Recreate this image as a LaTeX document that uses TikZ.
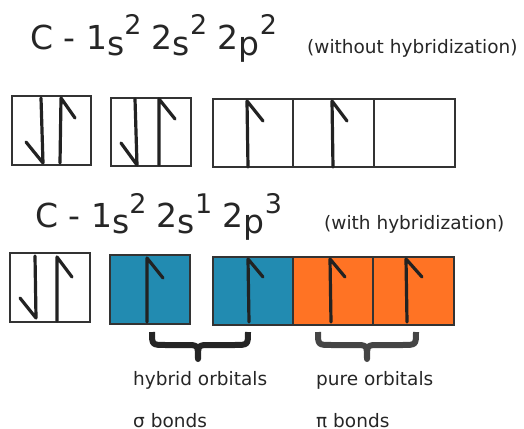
\documentclass[tikz,border=0pt]{standalone}
\usepackage{fontspec}
\setmainfont{DejaVu Sans}
\definecolor{hblue}{HTML}{228BB1}
\definecolor{porange}{HTML}{FF7324}
\definecolor{boxline}{HTML}{333333}
\definecolor{spinc}{HTML}{222222}
\definecolor{braceA}{HTML}{252525}
\definecolor{braceB}{HTML}{454545}
\newcommand{\bigf}{\fontsize{33}{33}\selectfont}
\newcommand{\supf}{\fontsize{27}{27}\selectfont}
\newcommand{\smf}{\fontsize{18.5}{18.5}\selectfont}
\newcommand{\lowr}[1]{\raisebox{-6pt}{#1}}
\newcommand{\upr}[1]{\raisebox{14pt}{\supf #1}}
\begin{document}
\begin{tikzpicture}[x=1pt,y=-1pt,
  orb/.style={draw=boxline, line width=2pt, anchor=north west, inner sep=0pt, outer sep=0pt},
  spin/.style={draw=spinc, line width=3.2pt, line cap=round, line join=round},
  brc/.style={line width=6pt, line cap=butt, line join=round},
  txt/.style={anchor=base west, inner sep=0pt, text=black!85}]
\useasboundingbox (0,0) rectangle (524,428);
% titles
\node[txt] (t1) at (30,49) {\bigf C - 1\lowr{s}\upr{2} 2\lowr{s}\upr{2} 2\lowr{p}\upr{2}};
\node[txt] (t1b) at (307,53) {\smf (without hybridization)};
\node[txt] (t2) at (35,227) {\bigf C - 1\lowr{s}\upr{2} 2\lowr{s}\upr{1} 2\lowr{p}\upr{3}};
\node[txt] (t2b) at (324,229) {\smf (with hybridization)};
% row 1 boxes
\node[orb, minimum width=79pt, minimum height=69pt] (a1) at (12,96) {};
\node[orb, minimum width=80pt, minimum height=68pt] (a2) at (111,98) {};
\node[orb, minimum width=80pt, minimum height=68pt] (a3) at (213,99) {};
\node[orb, minimum width=81pt, minimum height=68pt] (a4) at (293,99) {};
\node[orb, minimum width=81pt, minimum height=68pt] (a5) at (374,99) {};
% row 1 spins
\draw[spin] (41,98) -- (43,163) -- (26,142);
\draw[spin] (60,163) -- (61,98) -- (75,118);
\draw[spin] (135,99) -- (137,165) -- (121,143);
\draw[spin] (159,165) -- (159,99) -- (175,119);
\draw[spin] (248,167) -- (247,101) -- (263,121);
\draw[spin] (333,167) -- (332,101) -- (347,121);
% row 2 boxes
\node[orb, minimum width=80pt, minimum height=69pt] (b1) at (10,253) {};
\node[orb, fill=hblue, minimum width=80pt, minimum height=69pt] (b2) at (110,255) {};
\node[orb, fill=hblue, minimum width=80pt, minimum height=68pt] (b3) at (213,257) {};
\node[orb, fill=porange, minimum width=80pt, minimum height=68pt] (b4) at (293,257) {};
\node[orb, fill=porange, minimum width=81pt, minimum height=68pt] (b5) at (373,257) {};
% row 2 spins
\draw[spin] (35,256) -- (36,318) -- (20,298);
\draw[spin] (57,321) -- (57,257) -- (72,277);
\draw[spin] (147,322) -- (147,258) -- (163,278);
\draw[spin] (249,322) -- (248,259) -- (263,277);
\draw[spin] (331,322) -- (330,259) -- (345,277);
\draw[spin] (407,322) -- (406,259) -- (422,277);
% braces
\draw[brc, draw=braceA] (152,332) .. controls (152,345) .. (166,345) -- (186,345)
  .. controls (198,345) .. (198,359) .. controls (198,345) .. (210,345) -- (234,345)
  .. controls (248,345) .. (248,332);
\draw[brc, draw=braceB] (318,332) .. controls (318,345) .. (332,345) -- (355,345)
  .. controls (367,345) .. (367,359) .. controls (367,345) .. (379,345) -- (402,345)
  .. controls (416,345) .. (416,332);
% labels
\node[txt] (h1) at (133,385) {\smf hybrid orbitals};
\node[txt] (h2) at (316,385) {\smf pure orbitals};
\node[txt] (s1) at (133,427) {\smf σ bonds};
\node[txt] (s2) at (316,427) {\smf π bonds};
\end{tikzpicture}
\end{document}
